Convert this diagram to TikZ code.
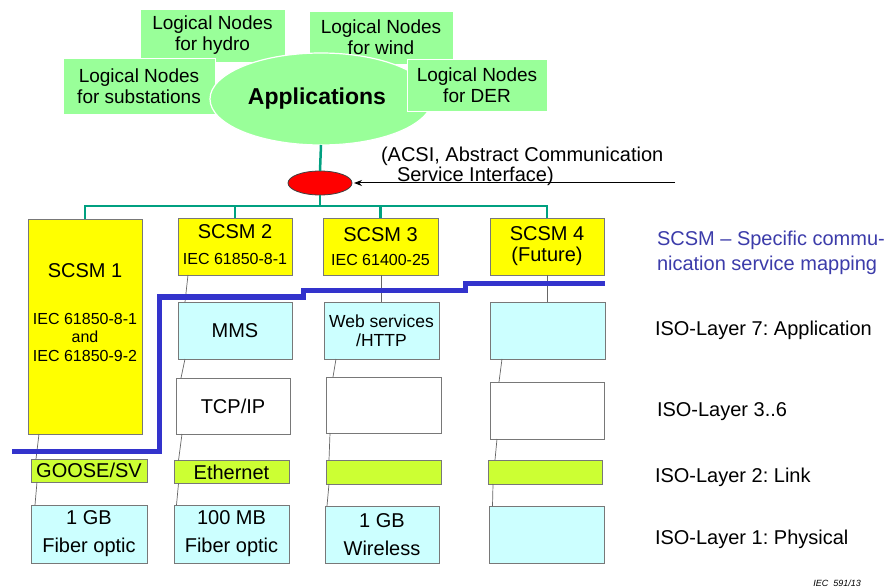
\documentclass[tikz,border=0pt]{standalone}
\usepackage{fontspec}
\setmainfont{Liberation Sans}
\usetikzlibrary{shapes.geometric,arrows.meta}
\definecolor{lngreen}{RGB}{153,255,153}
\definecolor{busteal}{RGB}{0,160,128}
\definecolor{scsmyellow}{RGB}{255,255,0}
\definecolor{appcyan}{RGB}{204,255,255}
\definecolor{linkgreen}{RGB}{204,255,51}
\definecolor{edgegray}{RGB}{120,120,120}
\definecolor{mapblue}{RGB}{51,51,204}
\definecolor{textblue}{RGB}{60,60,170}
\newcommand\fs[2]{\fontsize{#1}{#2}\selectfont}
\frenchspacing
\begin{document}
\begin{tikzpicture}[x=1pt,y=-1pt,
  every node/.style={inner sep=0pt,outer sep=0pt},
  lnbox/.style={fill=lngreen,draw=white,line width=0.8pt,align=center,font=\fs{19}{21}},
  lntxt/.style={align=center,font=\fs{19}{21}},
  stackbox/.style={draw=edgegray,line width=0.9pt,align=center},
  scsmbox/.style={stackbox,fill=scsmyellow},
  appbox/.style={stackbox,fill=appcyan},
  midbox/.style={stackbox,fill=white},
  linkbox/.style={stackbox,fill=linkgreen,font=\fs{20}{22}},
  physbox/.style={stackbox,fill=appcyan,font=\fs{20}{28}},
  bigtxt/.style={font=\fs{20}{22},align=center},
  stdtxt/.style={font=\fs{16}{18.5},align=center},
  isotxt/.style={anchor=base west,font=\fs{20}{22}},
  bus/.style={draw=busteal,line width=2.5pt},
  conn/.style={draw=black!60,line width=0.7pt},
  mapline/.style={draw=mapblue,line width=5pt,line join=miter}
]
\useasboundingbox (0,0) rectangle (892,588);
\fill[white] (0,0) rectangle (892,588);

% top: logical nodes and applications
\node[lnbox,minimum width=145pt,minimum height=53pt] (hydro) at (212.5,35.5) {};
\node[lnbox,minimum width=144pt,minimum height=53pt] (wind) at (381,37.5) {};
\node[lnbox,minimum width=152pt,minimum height=56pt] (subst) at (139,86) {Logical Nodes\\for substations};
\node[ellipse,fill=lngreen,draw=white,line width=1.2pt,minimum width=222pt,minimum height=92pt] (app) at (321,99) {};
\node[lntxt] (hydrotxt) at (hydro) {Logical Nodes\\for hydro};
\node[lntxt] (windtxt) at (wind) {Logical Nodes\\for wind};
\node[font=\bfseries\fs{23}{25}] (apptxt) at (317,99) {Applications};
\node[lnbox,minimum width=140pt,minimum height=52pt] (der) at (477,85) {Logical Nodes\\for DER};

% ACSI
\node[ellipse,fill=red,draw=black!75,line width=0.8pt,minimum width=64pt,minimum height=24pt] (acsi) at (320,183) {};
\node[anchor=west,align=left,font=\fs{20}{20}] (acsitxt) at (381,166) {(ACSI, Abstract Communication\\\hspace*{16pt}Service Interface)};
\coordinate (acsiin) at (675,183);
\draw[-{Stealth[length=8pt,width=6pt]},line width=1pt,shorten >=2pt] (acsiin) -- (acsi.east);

% SCSM boxes
\node[scsmbox,minimum width=114pt,minimum height=215pt] (s1) at (85,326.5) {};
\node[bigtxt] (s1a) at (85,271) {SCSM 1};
\node[stdtxt] (s1b) at (85,337) {IEC 61850-8-1\\and\\IEC 61850-9-2};
\node[scsmbox,minimum width=114pt,minimum height=57pt] (s2) at (235,246.5) {};
\node[bigtxt] (s2a) at (235,232) {SCSM 2};
\node[stdtxt] (s2b) at (235,259) {IEC 61850-8-1};
\node[scsmbox,minimum width=115pt,minimum height=57pt] (s3) at (380.5,246.5) {};
\node[bigtxt] (s3a) at (380.5,235) {SCSM 3};
\node[stdtxt] (s3b) at (380.5,260) {IEC 61400-25};
\node[scsmbox,minimum width=114pt,minimum height=57pt,font=\fs{20}{21}] (s4) at (547,246.5) {SCSM 4\\(Future)};

% bus
\coordinate (bus) at (320,206);
\draw[bus] (app.south) -- (acsi.north);
\draw[bus] (acsi.south) -- (bus);
\draw[bus] (s1.north) |- (bus) -| (s4.north);
\draw[bus] (s2.north) -- (s2.north |- bus);
\draw[bus] (s3.north) -- (s3.north |- bus);

% layer 7
\node[appbox,minimum width=114pt,minimum height=57pt,font=\fs{20}{22}] (mms) at (235,330.5) {MMS};
\node[appbox,minimum width=115pt,minimum height=57pt,font=\fs{17.5}{19}] (web) at (381.5,330.5) {Web services\\/HTTP};
\node[appbox,minimum width=115pt,minimum height=57pt] (app4) at (547.5,330.5) {};
% layer 3..6
\node[midbox,minimum width=114pt,minimum height=56pt,font=\fs{20}{22}] (tcp) at (233,406) {TCP/IP};
\node[midbox,minimum width=115pt,minimum height=56pt] (mid3) at (383.5,405) {};
\node[midbox,minimum width=114pt,minimum height=57pt] (mid4) at (547,410.5) {};
% layer 2
\node[linkbox,minimum width=116pt,minimum height=23pt] (goose) at (89,470.5) {GOOSE/SV};
\node[linkbox,minimum width=115pt,minimum height=23pt] (eth) at (231.5,472) {Ethernet};
\node[linkbox,minimum width=115pt,minimum height=24pt] (lk3) at (383.5,472) {};
\node[linkbox,minimum width=114pt,minimum height=24pt] (lk4) at (545,472) {};
% layer 1
\node[physbox,minimum width=116pt,minimum height=58pt] (ph1) at (89,534) {1 GB\\Fiber optic};
\node[physbox,minimum width=115pt,minimum height=58pt] (ph2) at (231.5,534) {100 MB\\Fiber optic};
\node[physbox,minimum width=114pt,minimum height=57pt] (ph3) at (382,534.5) {1 GB\\Wireless};
\node[physbox,minimum width=115pt,minimum height=57pt] (ph4) at (546.5,534.5) {};

% stack connectors
\draw[conn] ([xshift=-46pt]s1.south) -- ([xshift=-53pt]goose.north);
\draw[conn] ([xshift=-52pt]goose.south) -- ([xshift=-54pt]ph1.north);
\draw[conn] ([xshift=-47pt]s2.south) -- ([xshift=-50pt]mms.north);
\draw[conn] ([xshift=-50pt]mms.south) -- ([xshift=-52pt]tcp.north);
\draw[conn] ([xshift=-51pt]tcp.south) -- ([xshift=-53pt]eth.north);
\draw[conn] ([xshift=-53pt]eth.south) -- ([xshift=-55pt]ph2.north);
\draw[conn] ([xshift=0.5pt]s3.south) -- ([xshift=-0.5pt]web.north);
\draw[conn] ([xshift=-45.5pt]web.south) -- ([xshift=-50.5pt]mid3.north);
\draw[conn] ([xshift=-53.5pt]mid3.south) -- ([xshift=-54.5pt]lk3.north);
\draw[conn] ([xshift=-54.5pt]lk3.south) -- ([xshift=-55pt]ph3.north);
\draw[conn] (s4.south) -- ([xshift=-0.5pt]app4.north);
\draw[conn] ([xshift=-45.5pt]app4.south) -- ([xshift=-48pt]mid4.north);
\draw[conn] ([xshift=-50pt]mid4.south) -- ([xshift=-50pt]lk4.north);
\draw[conn] ([xshift=-52pt]lk4.south) -- ([xshift=-54pt]ph4.north);

% SCSM boundary line
\coordinate (m0) at (12,451);
\coordinate (m1) at (159,451);
\coordinate (m2) at (159,297);
\coordinate (m3) at (303,297);
\coordinate (m4) at (303,291);
\coordinate (m5) at (465,291);
\coordinate (m6) at (465,284);
\coordinate (m7) at (605,284);
\draw[mapline] (m0) -- (m1) -- (m2) -- (m3) -- (m4) -- (m5) -- (m6) -- (m7);

% right-hand labels
\node[anchor=base west,align=left,font=\fs{20}{25},text=textblue] (mapnote) at (657,271) {SCSM – Specific commu-\\nication service mapping};
\node[isotxt] (iso7) at (655,335) {ISO-Layer 7: Application};
\node[isotxt] (iso36) at (657,416) {ISO-Layer 3..6};
\node[isotxt] (iso2) at (655,482) {ISO-Layer 2: Link};
\node[isotxt] (iso1) at (655,544) {ISO-Layer 1: Physical};
\node[anchor=base east,font=\itshape\fs{9}{10}] (iec) at (861,586) {IEC\ \ 591/13};
\end{tikzpicture}
\end{document}
